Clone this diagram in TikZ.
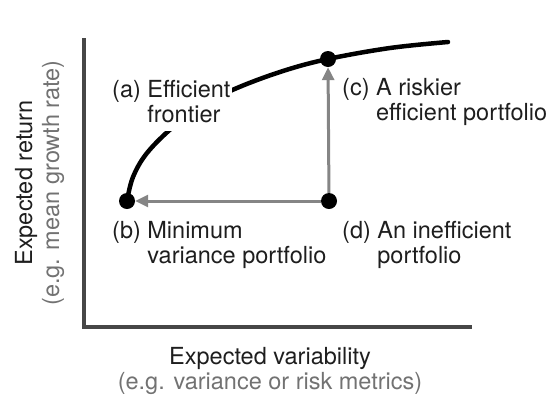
\documentclass[tikz,border=0pt]{standalone}
\usepackage{fontspec}
\setmainfont{TeX Gyre Heros}
\usetikzlibrary{arrows.meta}
\definecolor{axisgray}{HTML}{474747}
\definecolor{arrgray}{HTML}{858585}
\definecolor{subgray}{HTML}{727272}
\definecolor{txt}{HTML}{1E1E1E}
\begin{document}
\begin{tikzpicture}[x=1pt,y=-1pt,
  lbl/.style={font=\fontsize{23.5}{25.5}\selectfont, text=txt, inner sep=0pt},
  masklbl/.style={lbl, fill=white, inner sep=1pt},
  dot/.style={circle, fill=black, minimum size=16pt, inner sep=0pt},
  axisline/.style={line width=4pt, draw=axisgray, line cap=butt, line join=miter},
  movearrow/.style={line width=3pt, draw=arrgray, -{Triangle[length=13pt,width=12pt]}},
  frontierline/.style={line width=4.5pt, draw=black, line cap=round}]
\useasboundingbox (0,0) rectangle (546,400);
% axes
\coordinate (ytop) at (84,38);
\coordinate (origin) at (84,327);
\coordinate (xend) at (472,327);
\draw[axisline] (ytop) -- (origin) -- (xend);
% points
\coordinate (pb) at (127,201);
\coordinate (pc) at (328,59);
\coordinate (pd) at (329,201);
% frontier
\draw[frontierline] plot[smooth, tension=0.6] coordinates {(pb) (133,177) (147,153) (173,127) (203,105) (237,88) (283,71) (pc) (390,48) (448,42)};
% label (a) masks the curve
\node[masklbl, anchor=base west] (la) at (111,97)
  {\begin{tabular}[t]{@{}l@{\hspace{6.5pt}}l@{}}(a)&Efficient\\ &frontier\end{tabular}};
% arrows
\node[dot] (b) at (pb) {};
\node[dot] (c) at (pc) {};
\node[dot] (d) at (pd) {};
\draw[movearrow] (d) -- (b);
\draw[movearrow] (d) -- (c);
% labels
\node[lbl, anchor=base west] (lc) at (342,95)
  {\begin{tabular}[t]{@{}l@{\hspace{6.5pt}}l@{}}(c)&A riskier\\ &efficient portfolio\end{tabular}};
\node[lbl, anchor=base west] (lb) at (112,238)
  {\begin{tabular}[t]{@{}l@{\hspace{6.5pt}}l@{}}(b)&Minimum\\ &variance portfolio\end{tabular}};
\node[lbl, anchor=base west] (ld) at (342,238)
  {\begin{tabular}[t]{@{}l@{\hspace{6.5pt}}l@{}}(d)&An inefficient\\ &portfolio\end{tabular}};
% axis titles
\node[lbl, anchor=base] (xlab) at (270,364)
  {\begin{tabular}[t]{@{}c@{}}Expected variability\\ \textcolor{subgray}{(e.g. variance or risk metrics)}\end{tabular}};
\node[lbl, anchor=base, rotate=90] (ylab) at (32,183)
  {\begin{tabular}[t]{@{}c@{}}Expected return\\[1.5pt] \textcolor{subgray}{(e.g. mean growth rate)}\end{tabular}};
\end{tikzpicture}
\end{document}
